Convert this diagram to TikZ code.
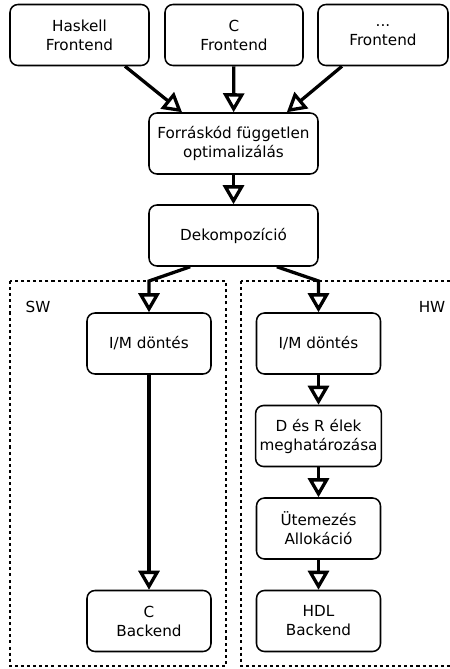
\documentclass[tikz,border=0pt]{standalone}
\usepackage{fontspec}
\setmainfont{DejaVu Sans}
\usepackage{tikz}
\usetikzlibrary{arrows.meta}
\tikzset{
  block/.style={draw, line width=1.3pt, rounded corners=0.24cm, align=center,
    minimum height=1.83cm, font=\fontsize{13}{16.2}\selectfont},
  flow/.style={line width=2.8pt, -{Triangle[open, width=0.63cm, length=0.57cm, fill=white]}},
  region/.style={line width=1.6pt, dash pattern=on 2.6pt off 2.6pt}
}

\begin{document}
\begin{tikzpicture}
\useasboundingbox (0,0) rectangle (13.47,-20.07);

\draw[region] (0.3,-8.43) rectangle (6.78,-19.98);
\node[font=\fontsize{13}{16.2}\selectfont] (swlabel) at (1.14,-9.21) {SW};
\draw[region] (7.23,-8.43) rectangle (13.8,-19.98);
\node[font=\fontsize{13}{16.2}\selectfont] (hwlabel) at (12.96,-9.21) {HW};

\node[block, minimum width=4.17cm] (haskell) at (2.385,-1.05) {Haskell\\Frontend};
\node[block, minimum width=4.14cm] (cfront) at (7.02,-1.05) {C\\Frontend};
\node[block, minimum width=3.9cm] (otherfront) at (11.49,-1.05) {...\\Frontend};

\node[block, minimum width=5.07cm] (optim) at (7.005,-4.305) {Forráskód független\\optimalizálás};
\node[block, minimum width=5.07cm] (dekomp) at (7.005,-7.065) {Dekompozíció};

\node[block, minimum width=3.72cm] (swim) at (4.47,-10.305) {I/M döntés};
\node[block, minimum width=3.72cm] (cback) at (4.47,-18.63) {C\\Backend};

\node[block, minimum width=3.72cm] (hwim) at (9.555,-10.305) {I/M döntés};
\node[block, minimum width=3.72cm] (edges) at (9.555,-13.08) {D és R élek\\meghatározása};
\node[block, minimum width=3.72cm] (sched) at (9.555,-15.855) {Ütemezés\\Allokáció};
\node[block, minimum width=3.72cm] (hdl) at (9.555,-18.63) {HDL\\Backend};

\coordinate (swsplit) at (4.47,-8.43);
\coordinate (hwsplit) at (9.555,-8.43);

\draw[flow] ([xshift=1.365cm]haskell.south) -- ([xshift=-1.545cm]optim.north);
\draw[flow] (cfront) -- (optim);
\draw[flow] ([xshift=-1.23cm]otherfront.south) -- ([xshift=1.6cm]optim.north);
\draw[flow] (optim) -- (dekomp);
\draw[flow] ([xshift=-1.3cm]dekomp.south) -- (swsplit) -- (swim);
\draw[flow] ([xshift=1.3cm]dekomp.south) -- (hwsplit) -- (hwim);
\draw[flow] (swim) -- (cback);
\draw[flow] (hwim) -- (edges);
\draw[flow] (edges) -- (sched);
\draw[flow] (sched) -- (hdl);
\end{tikzpicture}
\end{document}
